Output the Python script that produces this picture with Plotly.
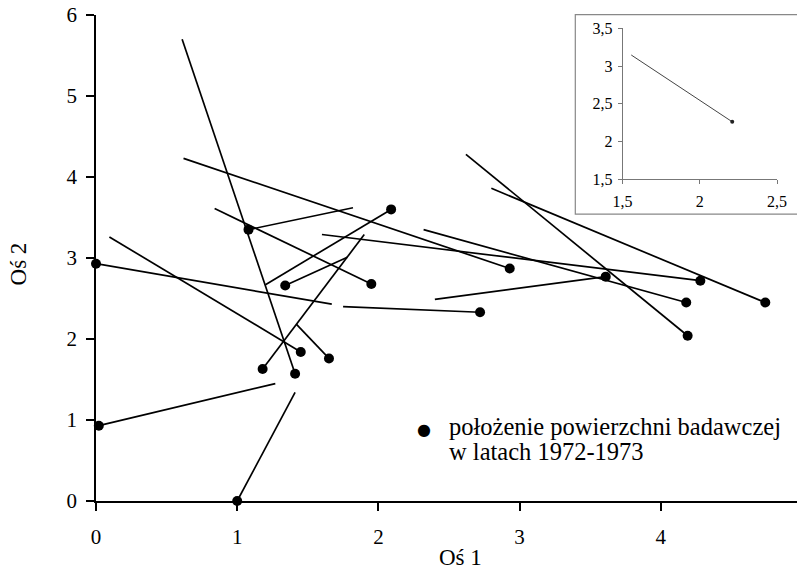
import plotly.graph_objects as go

# Segments: each has a dot (position 1972-1973) and a free end
dot_x = [1.41, 2.93, 4.18, 4.28, 4.19, 4.74, 3.61, 0.00, 2.72, 1.45, 0.02, 1.00, 1.08, 1.95, 2.09, 1.34, 1.18, 1.65]
dot_y = [1.57, 2.87, 2.45, 2.72, 2.04, 2.45, 2.77, 2.93, 2.33, 1.84, 0.93, 0.00, 3.35, 2.68, 3.60, 2.66, 1.63, 1.76]
end_x = [0.61, 0.62, 2.32, 1.60, 2.62, 2.80, 2.40, 1.67, 1.75, 0.095, 1.27, 1.41, 1.82, 0.84, 1.20, 1.78, 1.90, 1.42]
end_y = [5.70, 4.23, 3.35, 3.29, 4.28, 3.86, 2.49, 2.43, 2.40, 3.26, 1.45, 1.34, 3.62, 3.61, 2.67, 3.01, 3.29, 2.18]

main_xticks = [0, 1, 2, 3, 4, 5]
main_yticks = [0, 1, 2, 3, 4, 5, 6]

# Inset
inset_x = [1.556, 2.21]
inset_y = [3.146, 2.26]
inset_xticks = [1.5, 2, 2.5]
inset_xlabels = ["1,5", "2", "2,5"]
inset_yticks = [1.5, 2, 2.5, 3, 3.5]
inset_ylabels = ["1,5", "2", "2,5", "3", "3,5"]

FONT = "Liberation Serif"

# plot area in page pixels (page body has an 8px offset)
OFF = 8
PL, PR, PT, PB = 95.7, 801.7, 15.0, 500.7
W, H = 805, 565


def px(xp):
    return (xp - PL) / (PR - PL)


def py(yp):
    return (PB - yp) / (PB - PT)


lx, ly = [], []
for a, b, c, d in zip(dot_x, dot_y, end_x, end_y):
    lx += [a, c, None]
    ly += [b, d, None]

fig = go.Figure()
fig.add_trace(go.Scatter(x=lx, y=ly, mode="lines", line=dict(color="black", width=1.7),
                         showlegend=False, hoverinfo="skip", cliponaxis=False))
fig.add_trace(go.Scatter(x=dot_x, y=dot_y, mode="markers", marker=dict(color="black", size=10),
                         showlegend=False, cliponaxis=False))

fig.add_trace(go.Scatter(x=inset_x, y=inset_y, mode="lines", line=dict(color="#444", width=1),
                         xaxis="x2", yaxis="y2", showlegend=False))
fig.add_trace(go.Scatter(x=[inset_x[-1]], y=[inset_y[-1]], mode="markers", marker=dict(color="#222", size=4),
                         xaxis="x2", yaxis="y2", showlegend=False))

fig.update_layout(
    width=W - OFF, height=H - OFF,
    margin=dict(l=PL - OFF, r=W - PR, t=PT - OFF, b=H - PB, autoexpand=False),
    paper_bgcolor="white", plot_bgcolor="rgba(0,0,0,0)",
    font=dict(family=FONT, color="black"),
    xaxis=dict(range=[0, 5], tickvals=main_xticks, showgrid=False, zeroline=False, automargin=False,
               ticklabeloverflow="allow",
               showline=True, linecolor="black", linewidth=1.5, ticks="outside", ticklen=8,
               tickwidth=1.5, tickcolor="black", tickfont=dict(size=21, family=FONT), ticklabelstandoff=8),
    yaxis=dict(range=[0, 6], tickvals=main_yticks, showgrid=False, zeroline=False, automargin=False,
               ticklabeloverflow="allow",
               showline=True, linecolor="black", linewidth=1.5, ticks="outside", ticklen=8,
               tickwidth=1.5, tickcolor="black", tickfont=dict(size=21, family=FONT), ticklabelstandoff=5),
    xaxis2=dict(domain=[px(622.3), px(776.7)], anchor="y2", range=[1.5, 2.5], tickvals=inset_xticks,
                ticktext=inset_xlabels, showgrid=False, zeroline=False, showline=True, automargin=False,
                linecolor="#777", linewidth=1, ticks="outside", ticklen=4, tickcolor="#777",
                tickfont=dict(size=16, family=FONT), ticklabelstandoff=4),
    yaxis2=dict(domain=[py(179), py(28.3)], anchor="x2", range=[1.5, 3.5], tickvals=inset_yticks,
                ticktext=inset_ylabels, showgrid=False, zeroline=False, showline=True, automargin=False,
                linecolor="#777", linewidth=1, ticks="outside", ticklen=4, tickcolor="#777",
                tickfont=dict(size=16, family=FONT), ticklabelstandoff=2),
    shapes=[dict(type="rect", xref="paper", yref="paper", x0=px(575), x1=px(803.3), y0=py(214), y1=py(14.7),
                 line=dict(color="#888", width=1.2), fillcolor="white", layer="below")],
    annotations=[
        dict(text="Oś 2", xref="paper", yref="paper", x=px(18), y=py(264), textangle=-90,
             xanchor="center", yanchor="middle",
             showarrow=False, font=dict(size=23, family=FONT)),
        dict(text="Oś 1", xref="paper", yref="paper", x=px(460), y=py(557), showarrow=False,
             xanchor="center", yanchor="middle",
             font=dict(size=23, family=FONT)),
        dict(text="●", xref="paper", yref="paper", x=px(423.3), y=py(429.3),
             xanchor="center", yanchor="middle",
             showarrow=False, font=dict(size=16, family="DejaVu Sans")),
        dict(text="położenie powierzchni badawczej", xref="paper", yref="paper",
             x=px(446.7), y=py(426.7), xanchor="left", yanchor="middle",
             showarrow=False, font=dict(size=24.5, family=FONT)),
        dict(text="w latach 1972-1973", xref="paper", yref="paper",
             x=px(446.7), y=py(451.7), xanchor="left", yanchor="middle",
             showarrow=False, font=dict(size=24.5, family=FONT)),
    ],
)

fig.write_html("out.html")
